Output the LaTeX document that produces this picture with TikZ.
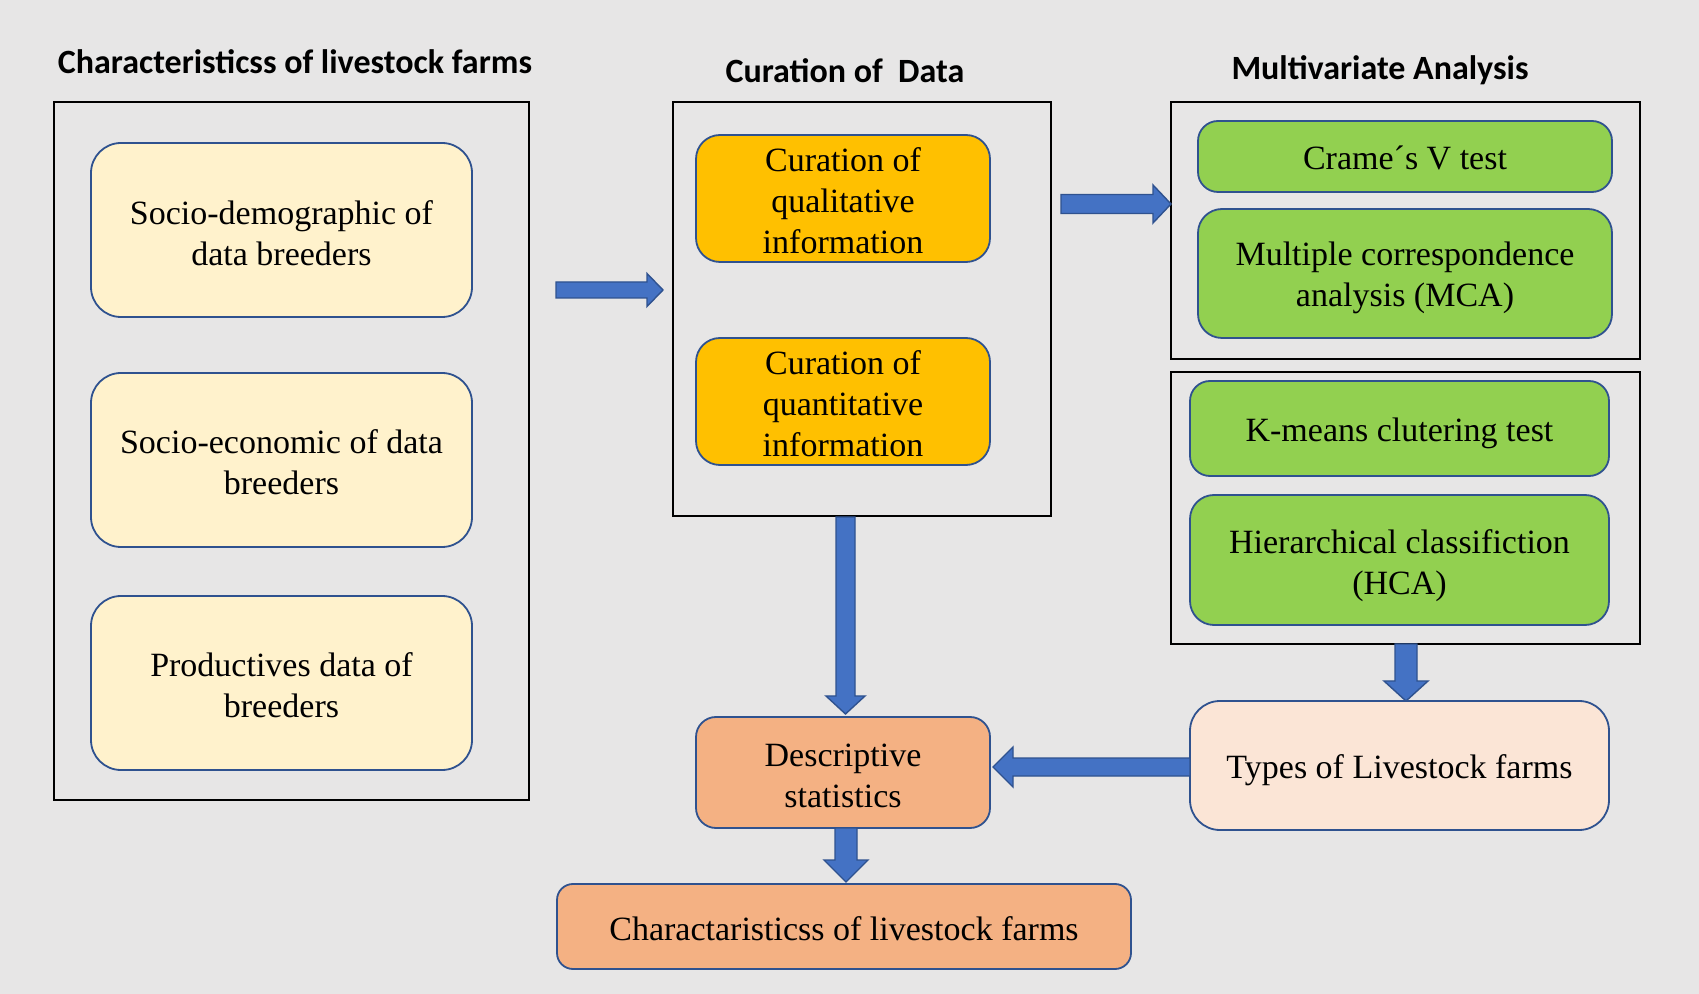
\documentclass[tikz,border=0pt]{standalone}
\usepackage{fontspec}
\setmainfont{Liberation Serif}
\newfontfamily\headfont{Carlito}
\usetikzlibrary{calc}
\definecolor{bgc}{HTML}{E7E6E6}
\definecolor{creamc}{HTML}{FFF2CC}
\definecolor{orangec}{HTML}{FFC000}
\definecolor{greenc}{HTML}{92D050}
\definecolor{peachc}{HTML}{F4B183}
\definecolor{lpeachc}{HTML}{FBE5D6}
\definecolor{edgec}{HTML}{2F528F}
\definecolor{arrowc}{HTML}{4472C4}
\tikzset{
  frame/.style={draw=black, line width=1pt, fill=none, inner sep=0pt},
  rbox/.style={draw=edgec, line width=0.9pt, inner sep=0pt},
  tx/.style={align=center, inner sep=0pt, font=\fontsize{17}{20.5}\selectfont},
  heading/.style={font=\headfont\bfseries\fontsize{17}{20}\selectfont, inner sep=0pt},
  barrow/.style={fill=arrowc, draw=edgec, line width=0.7pt, line join=miter},
}
% block arrows: tail, tip, half shaft, half head, head length (px)
\newcommand\RArrow[5]{\draw[barrow] ($(#1)+(0,-#3)$) -- ($(#2)+(-#5,-#3)$) -- ($(#2)+(-#5,-#4)$) -- (#2) -- ($(#2)+(-#5,#4)$) -- ($(#2)+(-#5,#3)$) -- ($(#1)+(0,#3)$) -- cycle;}
\newcommand\LArrow[5]{\draw[barrow] ($(#1)+(0,-#3)$) -- ($(#2)+(#5,-#3)$) -- ($(#2)+(#5,-#4)$) -- (#2) -- ($(#2)+(#5,#4)$) -- ($(#2)+(#5,#3)$) -- ($(#1)+(0,#3)$) -- cycle;}
\newcommand\DArrow[5]{\draw[barrow] ($(#1)+(-#3,0)$) -- ($(#2)+(-#3,-#5)$) -- ($(#2)+(-#4,-#5)$) -- (#2) -- ($(#2)+(#4,-#5)$) -- ($(#2)+(#3,-#5)$) -- ($(#1)+(#3,0)$) -- cycle;}
\begin{document}
\begin{tikzpicture}[x=0.5pt, y=-0.5pt]
\fill[bgc] (0,0) rectangle (1699,994);
\useasboundingbox (0,0) rectangle (1699,994);

% headings
\node[heading] (h1) at (295,62) {Characteristicss of livestock farms};
\node[heading] (h2) at (845,71) {Curation of\ \ Data};
\node[heading] (h3) at (1380,70) {Multivariate Analysis};

% frames
\node[frame, minimum width=237.5pt, minimum height=349pt] (leftframe) at (291.5,451) {};
\node[frame, minimum width=189pt, minimum height=207pt] (curframe) at (862,309) {};
\node[frame, minimum width=234.5pt, minimum height=128.5pt] (mvaframe) at (1405.5,230.5) {};
\node[frame, minimum width=234.5pt, minimum height=136pt] (clframe) at (1405.5,508) {};

% left boxes
\node[rbox, fill=creamc, rounded corners=15pt, minimum width=190.5pt, minimum height=87pt,
  label={[tx, yshift=-1.6pt]center:{Socio-demographic of\\data breeders}}] (socdem) at (281.5,230) {};
\node[rbox, fill=creamc, rounded corners=15pt, minimum width=190.5pt, minimum height=87pt,
  label={[tx, yshift=-1.1pt]center:{Socio-economic of data\\breeders}}] (socecon) at (281.5,460) {};
\node[rbox, fill=creamc, rounded corners=15pt, minimum width=190.5pt, minimum height=87pt,
  label={[tx, yshift=-1.1pt]center:{Productives data of\\breeders}}] (prod) at (281.5,683) {};

% curation boxes
\node[rbox, fill=orangec, rounded corners=12pt, minimum width=147pt, minimum height=63.5pt,
  label={[tx, yshift=-1pt]center:{Curation of\\qualitative\\information}}] (qual) at (843,198.5) {};
\node[rbox, fill=orangec, rounded corners=12pt, minimum width=147pt, minimum height=63.5pt,
  label={[tx, yshift=-1pt]center:{Curation of\\quantitative\\information}}] (quant) at (843,401.5) {};

% multivariate boxes
\node[rbox, fill=greenc, rounded corners=10pt, minimum width=207pt, minimum height=35.5pt,
  label={[tx, yshift=-0.5pt]center:{Crame´s V test}}] (cramer) at (1405,156.5) {};
\node[rbox, fill=greenc, rounded corners=12pt, minimum width=207pt, minimum height=64.5pt,
  label={[tx, yshift=-2pt]center:{Multiple correspondence\\analysis (MCA)}}] (mca) at (1405,273.5) {};
\node[rbox, fill=greenc, rounded corners=10pt, minimum width=209.5pt, minimum height=47.5pt,
  label={[tx, yshift=-2.5pt]center:{K-means clutering test}}] (kmeans) at (1399.5,428.5) {};
\node[rbox, fill=greenc, rounded corners=12pt, minimum width=209.5pt, minimum height=65pt,
  label={[tx, yshift=-3pt]center:{Hierarchical classifiction\\(HCA)}}] (hca) at (1399.5,560) {};

% results
\node[rbox, fill=lpeachc, rounded corners=15pt, minimum width=209.5pt, minimum height=64.5pt,
  label={[tx, yshift=-2.5pt]center:{Types of Livestock farms}}] (types) at (1399.5,765.5) {};
\node[rbox, fill=peachc, rounded corners=10pt, minimum width=147pt, minimum height=55.5pt,
  label={[tx, yshift=-1.5pt]center:{Descriptive\\statistics}}] (desc) at (843,772.5) {};
\node[rbox, fill=peachc, rounded corners=8pt, minimum width=287pt, minimum height=42.5pt,
  label={[tx, yshift=-1pt]center:{Charactaristicss of livestock farms}}] (charac) at (844,926.5) {};

% arrow end points
\coordinate (a1s) at (556,290); \coordinate (a1e) at (663,290);
\coordinate (a2s) at (1061,204); \coordinate (a2e) at (1171,204);
\coordinate (a3s) at (845.5,517); \coordinate (a3e) at (845.5,714);
\coordinate (a4s) at (846,828); \coordinate (a4e) at (846,882);
\coordinate (a5s) at (1190,767); \coordinate (a5e) at (993,767);
\coordinate (a6s) at (1406,644); \coordinate (a6e) at (1406,701);

\RArrow{a1s}{a1e}{8}{16.5}{16}
\RArrow{a2s}{a2e}{9.5}{19}{18}
\DArrow{a3s}{a3e}{9.5}{19.5}{18}
\DArrow{a4s}{a4e}{11}{22}{22}
\LArrow{a5s}{a5e}{9}{20}{20}
\DArrow{a6s}{a6e}{11}{22}{20}
\end{tikzpicture}
\end{document}
